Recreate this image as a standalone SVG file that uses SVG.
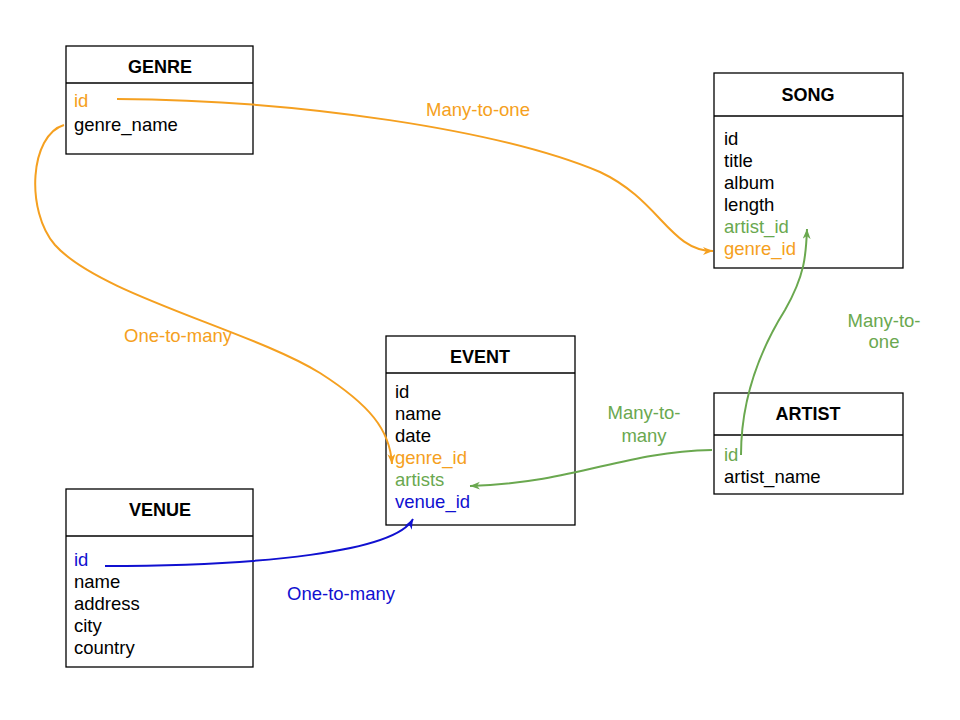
<svg xmlns="http://www.w3.org/2000/svg" width="960" height="720" viewBox="0 0 960 720">
<style>
.box{fill:#fff;stroke:#000;stroke-width:1.3}
.div{stroke:#000;stroke-width:1.3}
text{font-family:"Liberation Sans",Arial,sans-serif;font-size:18.5px;fill:#000}
.t{font-weight:bold;text-anchor:middle;font-size:18px}
.o{fill:#F5A020}
.g{fill:#6AA84F}
.b{fill:#1010D0}
.c{fill:none;stroke-width:2}
.lbl{text-anchor:middle}
</style>
<defs>
<marker id="ao" markerWidth="12" markerHeight="10" refX="10" refY="4" orient="auto" markerUnits="userSpaceOnUse"><path d="M0,0 L10,4 L0,8 L3,4 Z" fill="#F5A020"/></marker>
<marker id="ag" markerWidth="12" markerHeight="10" refX="10" refY="4" orient="auto" markerUnits="userSpaceOnUse"><path d="M0,0 L10,4 L0,8 L3,4 Z" fill="#6AA84F"/></marker>
<marker id="ab" markerWidth="12" markerHeight="10" refX="10" refY="4" orient="auto" markerUnits="userSpaceOnUse"><path d="M0,0 L10,4 L0,8 L3,4 Z" fill="#1010D0"/></marker>
</defs>
<rect width="960" height="720" fill="#fff"/>

<g id="genre">
<rect class="box" x="66" y="46" width="187" height="108"/>
<line class="div" x1="66" y1="83" x2="253" y2="83"/>
<text class="t" x="160" y="73">GENRE</text>
<text class="o" x="74" y="107">id</text>
<text x="74" y="131">genre_name</text>
</g>

<g id="song">
<rect class="box" x="714" y="73" width="189" height="195"/>
<line class="div" x1="714" y1="116" x2="903" y2="116"/>
<text class="t" x="808" y="101">SONG</text>
<text x="724" y="145">id</text>
<text x="724" y="167">title</text>
<text x="724" y="189">album</text>
<text x="724" y="211">length</text>
<text class="g" x="724" y="233">artist_id</text>
<text class="o" x="724" y="255">genre_id</text>
</g>

<g id="event">
<rect class="box" x="386" y="336" width="189" height="189"/>
<line class="div" x1="386" y1="373" x2="575" y2="373"/>
<text class="t" x="480" y="363">EVENT</text>
<text x="395" y="398">id</text>
<text x="395" y="420">name</text>
<text x="395" y="442">date</text>
<text class="o" x="395" y="464">genre_id</text>
<text class="g" x="395" y="486">artists</text>
<text class="b" x="395" y="508">venue_id</text>
</g>

<g id="venue">
<rect class="box" x="66" y="489" width="187" height="178"/>
<line class="div" x1="66" y1="536" x2="253" y2="536"/>
<text class="t" x="160" y="516">VENUE</text>
<text class="b" x="74" y="566">id</text>
<text x="74" y="588">name</text>
<text x="74" y="610">address</text>
<text x="74" y="632">city</text>
<text x="74" y="654">country</text>
</g>

<g id="artist">
<rect class="box" x="714" y="393" width="189" height="101"/>
<line class="div" x1="714" y1="435" x2="903" y2="435"/>
<text class="t" x="808" y="420">ARTIST</text>
<text class="g" x="724" y="461">id</text>
<text x="724" y="483">artist_name</text>
</g>

<g id="connectors">
<path class="c" stroke="#F5A020" marker-end="url(#ao)" d="M117,99 C300,100 500,130 600,172 C660,200 670,251 713,251"/>
<path class="c" stroke="#F5A020" marker-end="url(#ao)" d="M64,125 C30,135 25,210 55,245 C100,295 250,330 320,373 C370,405 390,430 392,464"/>
<path class="c" stroke="#6AA84F" marker-end="url(#ag)" d="M741,455 C741,400 760,350 785,310 C805,275 806,255 807,229"/>
<path class="c" stroke="#6AA84F" marker-end="url(#ag)" d="M712,450 C620,452 580,482 470,486"/>
<path class="c" stroke="#1010D0" marker-end="url(#ab)" d="M105,566 C260,566 395,552 413,519"/>
<text class="o lbl" x="478" y="116">Many-to-one</text>
<text class="o lbl" x="178" y="342">One-to-many</text>
<text class="g lbl" x="884" y="327">Many-to-</text>
<text class="g lbl" x="884" y="348">one</text>
<text class="g lbl" x="644" y="419">Many-to-</text>
<text class="g lbl" x="644" y="442">many</text>
<text class="b lbl" x="341" y="600">One-to-many</text>
</g>
</svg>
